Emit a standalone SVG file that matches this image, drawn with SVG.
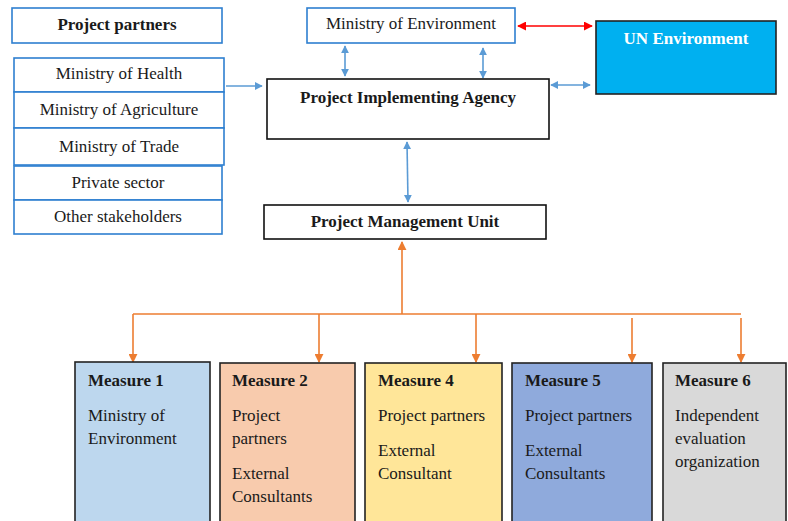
<svg xmlns="http://www.w3.org/2000/svg" width="788" height="521" viewBox="0 0 788 521">
<style>
.b{font-weight:bold}
.c{text-anchor:middle}
.pb{fill:#fff;stroke:#2e7fd0;stroke-width:1.6}
.kb{fill:#fff;stroke:#111;stroke-width:1.6}
.mb{stroke:#222;stroke-width:1.6}
.bl{stroke:#5b9bd5;stroke-width:1.6;fill:none}
.rd{stroke:#ff0000;stroke-width:1.6;fill:none}
.or{stroke:#ed7d31;stroke-width:1.6;fill:none}
</style>
<defs>
<marker id="ab" viewBox="0 0 10 10" refX="9" refY="5" markerWidth="8" markerHeight="8" orient="auto-start-reverse" markerUnits="userSpaceOnUse"><path d="M0,0L10,5L0,10z" fill="#5b9bd5"/></marker>
<marker id="ar" viewBox="0 0 10 10" refX="9" refY="5" markerWidth="9" markerHeight="9" orient="auto-start-reverse" markerUnits="userSpaceOnUse"><path d="M0,0L10,5L0,10z" fill="#ff0000"/></marker>
<marker id="ao" viewBox="0 0 10 10" refX="9" refY="5" markerWidth="9" markerHeight="9" orient="auto-start-reverse" markerUnits="userSpaceOnUse"><path d="M0,0L10,5L0,10z" fill="#ed7d31"/></marker>
</defs>
<g id="connectors">
<line class="bl" x1="226" y1="86" x2="262" y2="86" marker-end="url(#ab)"/>
<line class="bl" x1="345" y1="46" x2="345" y2="76" marker-start="url(#ab)" marker-end="url(#ab)"/>
<line class="bl" x1="483" y1="48" x2="483" y2="78" marker-start="url(#ab)" marker-end="url(#ab)"/>
<line class="bl" x1="551" y1="85" x2="590" y2="85" marker-start="url(#ab)" marker-end="url(#ab)"/>
<line class="bl" x1="407" y1="142" x2="408" y2="202" marker-start="url(#ab)" marker-end="url(#ab)"/>
<line class="rd" x1="518" y1="26" x2="592" y2="26" marker-start="url(#ar)" marker-end="url(#ar)"/>
<line class="or" x1="402" y1="242" x2="402" y2="314" marker-start="url(#ao)"/>
<line class="or" x1="133" y1="314" x2="741" y2="314"/>
<line class="or" x1="133" y1="314" x2="133" y2="362" marker-end="url(#ao)"/>
<line class="or" x1="319" y1="314" x2="319" y2="362" marker-end="url(#ao)"/>
<line class="or" x1="476" y1="314" x2="476" y2="362" marker-end="url(#ao)"/>
<line class="or" x1="632" y1="318" x2="632" y2="362" marker-end="url(#ao)"/>
<line class="or" x1="741" y1="318" x2="741" y2="362" marker-end="url(#ao)"/>
</g>
<g id="project-partners"><rect class="pb" x="12" y="8" width="210" height="35"/><text class="b c" font-family="Liberation Serif" font-size="17" fill="#1a1a1a" x="117" y="30">Project partners</text></g>
<g id="ministry-health"><rect class="pb" x="14" y="58" width="210" height="34"/><text class="c" font-family="Liberation Serif" font-size="17" fill="#1a1a1a" x="119" y="79">Ministry of Health</text></g>
<g id="ministry-agriculture"><rect class="pb" x="14" y="92" width="210" height="36"/><text class="c" font-family="Liberation Serif" font-size="17" fill="#1a1a1a" x="119" y="115">Ministry of Agriculture</text></g>
<g id="ministry-trade"><rect class="pb" x="14" y="128" width="210" height="37"/><text class="c" font-family="Liberation Serif" font-size="17" fill="#1a1a1a" x="119" y="152">Ministry of Trade</text></g>
<g id="private-sector"><rect class="pb" x="14" y="166" width="208" height="34"/><text class="c" font-family="Liberation Serif" font-size="17" fill="#1a1a1a" x="118" y="188">Private sector</text></g>
<g id="other-stakeholders"><rect class="pb" x="14" y="200" width="208" height="34"/><text class="c" font-family="Liberation Serif" font-size="17" fill="#1a1a1a" x="118" y="222">Other stakeholders</text></g>
<g id="ministry-environment"><rect class="pb" x="307" y="8" width="208" height="35"/><text class="c" font-family="Liberation Serif" font-size="17" fill="#1a1a1a" x="411" y="29">Ministry of Environment</text></g>
<g id="un-environment"><rect x="596" y="21" width="180" height="73" fill="#00b0f0" stroke="#222" stroke-width="1.6"/><text class="b c" font-family="Liberation Serif" font-size="17" fill="#ffffff" x="686" y="44">UN Environment</text></g>
<g id="implementing-agency"><rect class="kb" x="267" y="79" width="282" height="60"/><text class="b c" font-family="Liberation Serif" font-size="17" fill="#1a1a1a" x="408" y="103">Project Implementing Agency</text></g>
<g id="pmu"><rect class="kb" x="264" y="205" width="282" height="34"/><text class="b c" font-family="Liberation Serif" font-size="17" fill="#1a1a1a" x="405" y="227">Project Management Unit</text></g>
<g id="measure1"><rect class="mb" x="75" y="362" width="135" height="162" fill="#bdd7ee"/><text class="b" font-family="Liberation Serif" font-size="17" fill="#1a1a1a" x="88" y="386">Measure 1</text><text font-family="Liberation Serif" font-size="17" fill="#1a1a1a" x="88" y="421">Ministry of</text><text font-family="Liberation Serif" font-size="17" fill="#1a1a1a" x="88" y="444">Environment</text></g>
<g id="measure2"><rect class="mb" x="220" y="363" width="135" height="161" fill="#f8cbad"/><text class="b" font-family="Liberation Serif" font-size="17" fill="#1a1a1a" x="232" y="386">Measure 2</text><text font-family="Liberation Serif" font-size="17" fill="#1a1a1a" x="232" y="421">Project</text><text font-family="Liberation Serif" font-size="17" fill="#1a1a1a" x="232" y="444">partners</text><text font-family="Liberation Serif" font-size="17" fill="#1a1a1a" x="232" y="479">External</text><text font-family="Liberation Serif" font-size="17" fill="#1a1a1a" x="232" y="502">Consultants</text></g>
<g id="measure4"><rect class="mb" x="365" y="363" width="137" height="161" fill="#ffe699"/><text class="b" font-family="Liberation Serif" font-size="17" fill="#1a1a1a" x="378" y="386">Measure 4</text><text font-family="Liberation Serif" font-size="17" fill="#1a1a1a" x="378" y="421">Project partners</text><text font-family="Liberation Serif" font-size="17" fill="#1a1a1a" x="378" y="456">External</text><text font-family="Liberation Serif" font-size="17" fill="#1a1a1a" x="378" y="479">Consultant</text></g>
<g id="measure5"><rect class="mb" x="512" y="363" width="140" height="161" fill="#8faadc"/><text class="b" font-family="Liberation Serif" font-size="17" fill="#1a1a1a" x="525" y="386">Measure 5</text><text font-family="Liberation Serif" font-size="17" fill="#1a1a1a" x="525" y="421">Project partners</text><text font-family="Liberation Serif" font-size="17" fill="#1a1a1a" x="525" y="456">External</text><text font-family="Liberation Serif" font-size="17" fill="#1a1a1a" x="525" y="479">Consultants</text></g>
<g id="measure6"><rect class="mb" x="663" y="363" width="123" height="161" fill="#d9d9d9"/><text class="b" font-family="Liberation Serif" font-size="17" fill="#1a1a1a" x="675" y="386">Measure 6</text><text font-family="Liberation Serif" font-size="17" fill="#1a1a1a" x="675" y="421">Independent</text><text font-family="Liberation Serif" font-size="17" fill="#1a1a1a" x="675" y="444">evaluation</text><text font-family="Liberation Serif" font-size="17" fill="#1a1a1a" x="675" y="467">organization</text></g>
</svg>
